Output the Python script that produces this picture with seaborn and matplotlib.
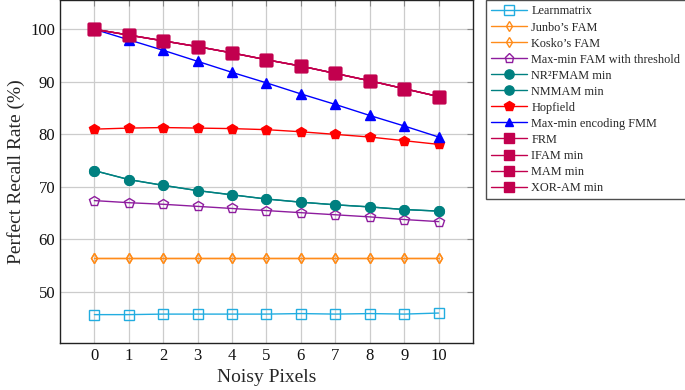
import matplotlib
matplotlib.use("Agg")
import matplotlib.pyplot as plt
import seaborn as sns
import numpy as np
import pandas as pd

noisy_pixels = [0, 1, 2, 3, 4, 5, 6, 7, 8, 9, 10]

learnmatrix = [45.7, 45.7, 45.8, 45.8, 45.8, 45.8, 45.9, 45.8, 45.9, 45.8, 46.0]
junbo_fam = [56.5, 56.5, 56.5, 56.5, 56.5, 56.5, 56.5, 56.5, 56.5, 56.5, 56.5]
kosko_fam = [56.5, 56.5, 56.5, 56.5, 56.5, 56.5, 56.5, 56.5, 56.5, 56.5, 56.5]
maxmin_fam_thr = [67.4, 67.0, 66.7, 66.3, 65.9, 65.5, 65.1, 64.7, 64.3, 63.8, 63.4]
nr2fmam_min = [73.1, 71.4, 70.3, 69.3, 68.5, 67.7, 67.1, 66.6, 66.2, 65.7, 65.4]
nmmam_min = [73.1, 71.4, 70.3, 69.3, 68.5, 67.7, 67.1, 66.6, 66.2, 65.7, 65.4]
hopfield = [81.0, 81.2, 81.3, 81.2, 81.1, 80.9, 80.5, 80.0, 79.5, 78.8, 78.1]
maxmin_enc_fmm = [100.0, 98.0, 96.0, 93.9, 91.8, 89.8, 87.7, 85.7, 83.6, 81.6, 79.5]
frm = [100.0, 98.9, 97.8, 96.7, 95.5, 94.2, 93.0, 91.6, 90.2, 88.7, 87.2]
ifam_min = [100.0, 98.9, 97.8, 96.7, 95.5, 94.2, 93.0, 91.6, 90.2, 88.7, 87.2]
mam_min = [100.0, 98.9, 97.8, 96.7, 95.5, 94.2, 93.0, 91.6, 90.2, 88.7, 87.2]
xor_am_min = [100.0, 98.9, 97.8, 96.7, 95.5, 94.2, 93.0, 91.6, 90.2, 88.7, 87.2]

series_names = ["Learnmatrix", "Junbo\u2019s FAM", "Kosko\u2019s FAM",
                "Max-min FAM with threshold", "NR\u00b2FMAM min", "NMMAM min",
                "Hopfield", "Max-min encoding FMM", "FRM", "IFAM min",
                "MAM min", "XOR-AM min"]
series_values = [learnmatrix, junbo_fam, kosko_fam, maxmin_fam_thr, nr2fmam_min,
                 nmmam_min, hopfield, maxmin_enc_fmm, frm, ifam_min, mam_min,
                 xor_am_min]

crimson = "#c2004e"
styles = [
    dict(color="#22ade0", marker="s", ms=7, mfc="none"),
    dict(color="#ff8c1a", marker="d", ms=5.5, mfc="none"),
    dict(color="#ff8c1a", marker="d", ms=5.5, mfc="none"),
    dict(color="#8e1c9e", marker="p", ms=7, mfc="none"),
    dict(color="#008080", marker="o", ms=7, mfc="#008080"),
    dict(color="#008080", marker="o", ms=7, mfc="#008080"),
    dict(color="#ff0000", marker="p", ms=7.5, mfc="#ff0000"),
    dict(color="#0000ff", marker="^", ms=6.5, mfc="#0000ff"),
    dict(color=crimson, marker="s", ms=8, mfc=crimson),
    dict(color=crimson, marker="s", ms=8, mfc=crimson),
    dict(color=crimson, marker="s", ms=8, mfc=crimson),
    dict(color=crimson, marker="s", ms=8, mfc=crimson),
]

sns.set_style("white")
plt.rcParams["font.family"] = ["Liberation Serif", "DejaVu Serif"]

fig = plt.figure(figsize=(6.85, 3.9), dpi=100)
ax = fig.add_axes([60 / 685, 1 - 343 / 390, (473 - 60) / 685, 343 / 390 - 0.001])

for name, vals, st in zip(series_names, series_values, styles):
    df = pd.DataFrame({"x": noisy_pixels, "y": vals})
    sns.lineplot(data=df, x="x", y="y", ax=ax, color=st["color"], marker=st["marker"],
                 markersize=st["ms"], markerfacecolor=st["mfc"],
                 markeredgecolor=st["color"], markeredgewidth=1.0, linewidth=1.0,
                 label=name, legend=False)

ax.set_xlim(-1, 11)
ax.set_ylim(40.3, 105.5)
ax.set_xticks(noisy_pixels)
ax.set_yticks([50, 60, 70, 80, 90, 100])
ax.grid(True, color="#cccccc", linewidth=0.9)
ax.set_axisbelow(True)
for s in ax.spines.values():
    s.set_color("#222222")
    s.set_linewidth(1.0)
ax.tick_params(axis="both", direction="in", length=4, color="#888888",
               labelsize=12, top=True, right=True, labelcolor="#111111")
ax.set_xlabel("Noisy Pixels", fontsize=14)
ax.set_ylabel("Perfect Recall Rate (%)", fontsize=14)

handles, labels = ax.get_legend_handles_labels()
leg = fig.legend(handles, labels, loc="upper left", bbox_to_anchor=(486 / 685, 1.0),
                 fontsize=8.8, frameon=True, fancybox=False, edgecolor="#222222",
                 handlelength=2.9, labelspacing=0.33, borderpad=0.45,
                 handletextpad=0.35, borderaxespad=0, markerscale=0.95)
leg.get_frame().set_linewidth(1.0)

fig.savefig("out.png", dpi=100)
